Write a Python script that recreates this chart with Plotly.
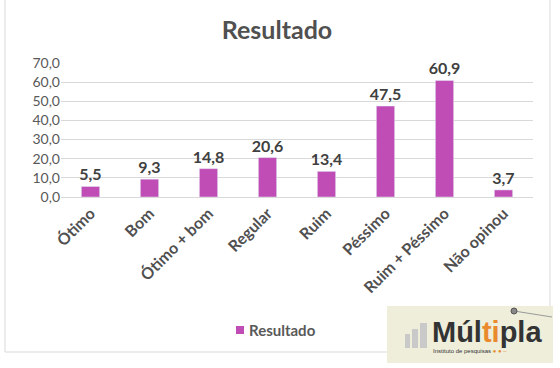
import plotly.graph_objects as go

categories = ["Ótimo", "Bom", "Ótimo + bom", "Regular", "Ruim", "Péssimo", "Ruim + Péssimo", "Não opinou"]
values = [5.5, 9.3, 14.8, 20.6, 13.4, 47.5, 60.9, 3.7]
labels = [f"{v:.1f}".replace(".", ",") for v in values]
series_name = "Resultado"
y_ticks = [0, 10, 20, 30, 40, 50, 60, 70]
bar_color = "#C04DB5"

W, H = 560, 368
L, R, T, B = 61, 533, 63, 197  # plot area pixel bounds


def px(x):
    return (x - L) / (R - L)


def py(y):
    return (B - y) / (B - T)


fig = go.Figure()
fig.add_trace(go.Bar(
    x=categories, y=values, name=series_name,
    marker=dict(color=bar_color),
    text=labels, textposition="outside", constraintext="none",
    textfont=dict(family="Lato", size=16, color="#404040"),
    texttemplate="<b>%{text}</b>", cliponaxis=False, showlegend=False,
))

shapes = []
# chart border
shapes.append(dict(type="rect", xref="paper", yref="paper",
                   x0=px(5), x1=px(550), y0=py(352), y1=py(-3),
                   line=dict(color="#D9D9D9", width=1), fillcolor="rgba(0,0,0,0)", layer="below"))
# legend marker
shapes.append(dict(type="rect", xref="paper", yref="paper",
                   x0=px(236), x1=px(244), y0=py(334), y1=py(326),
                   line=dict(width=0), fillcolor=bar_color))
# logo background
shapes.append(dict(type="rect", xref="paper", yref="paper",
                   x0=px(387), x1=px(553), y0=py(363), y1=py(306),
                   line=dict(width=0), fillcolor="#EEEEDB", layer="above"))
# logo gray bars
for x0, x1, top in [(405, 410, 334), (412, 418, 329), (420, 427, 323)]:
    shapes.append(dict(type="rect", xref="paper", yref="paper",
                       x0=px(x0), x1=px(x1), y0=py(348), y1=py(top),
                       line=dict(width=0), fillcolor="#C9C9C9", layer="above"))
# logo line and dot
shapes.append(dict(type="line", xref="paper", yref="paper",
                   x0=px(514), x1=px(552), y0=py(311), y1=py(317),
                   line=dict(color="#9A9A9A", width=1), layer="above"))
shapes.append(dict(type="circle", xref="paper", yref="paper",
                   x0=px(511), x1=px(517), y0=py(314), y1=py(308),
                   line=dict(color="#555555", width=1), fillcolor="#888888", layer="above"))

annotations = [
    dict(text="<b>" + series_name + "</b>", xref="paper", yref="paper",
         x=px(247), y=py(330), xanchor="left", yanchor="middle", showarrow=False,
         font=dict(family="Lato", size=15, color="#595959")),
    dict(text="<b>Múl<span style='color:#E98A2E'>ti</span>pla</b>", xref="paper", yref="paper",
         x=px(430), y=py(332), xanchor="left", yanchor="middle", showarrow=False,
         font=dict(family="Liberation Sans", size=29, color="#333333")),
    dict(text="Instituto de pesquisas <span style='color:#E98A2E'>● ● –</span>", xref="paper", yref="paper",
         x=px(431), y=py(351), xanchor="left", yanchor="middle", showarrow=False,
         font=dict(family="Liberation Sans", size=6, color="#333333")),
]

fig.update_layout(
    width=W, height=H,
    margin=dict(l=L, r=W - R, t=T, b=H - B),
    paper_bgcolor="white", plot_bgcolor="white",
    separators=",.",
    title=dict(text="<b>Resultado</b>", x=px(277), xref="paper", y=1 - 30 / H, yanchor="middle",
               xanchor="center", font=dict(family="Lato", size=25, color="#505050")),
    bargap=0.69,
    showlegend=False,
    xaxis=dict(tickangle=-45, tickfont=dict(family="Lato", size=16, color="#505050"),
               showline=True, linecolor="#D9D9D9", ticks="", showgrid=False,
               tickprefix="<b>", ticksuffix="</b>"),
    yaxis=dict(range=[0, 70], tickvals=y_ticks, tickformat=".1f",
               tickfont=dict(family="Lato", size=14, color="#595959"),
               showgrid=True, gridcolor="#D9D9D9", zeroline=False, ticks="",
               showline=False),
    shapes=shapes,
    annotations=annotations,
)

fig.write_html("out.html")
